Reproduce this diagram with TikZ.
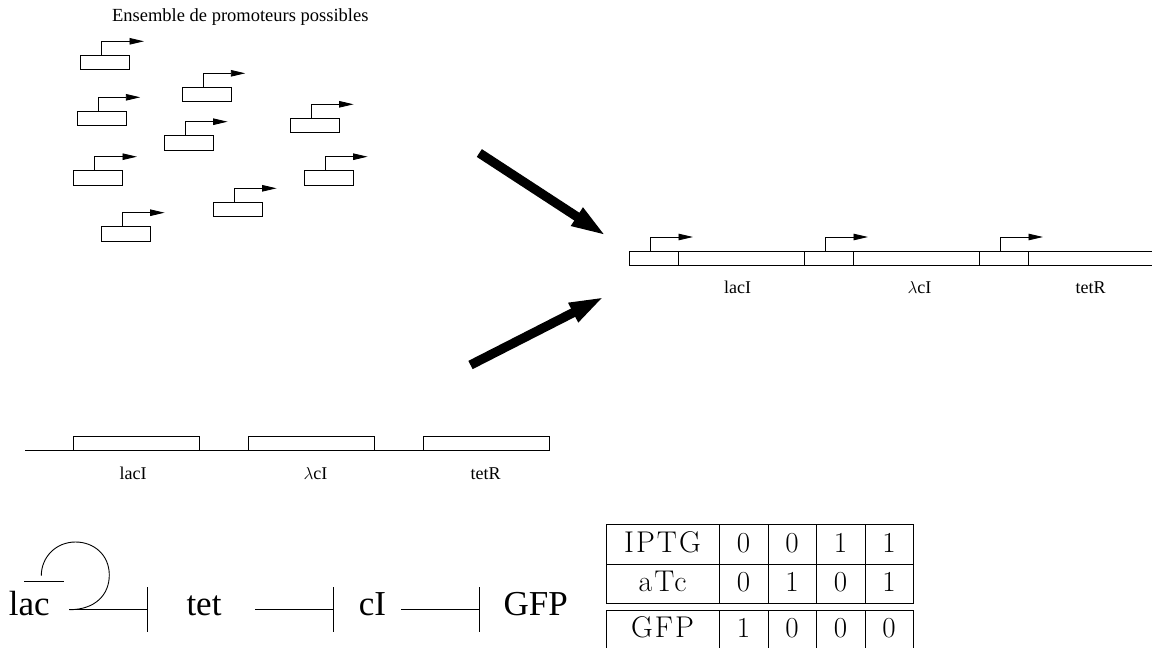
\documentclass[tikz,border=0pt]{standalone}
\usepackage{fontspec}
\setmainfont{Liberation Serif}
\newfontfamily\cmfont[LetterSpace=7]{Latin Modern Roman}
\newfontfamily\cmdigit{Latin Modern Roman}
\usetikzlibrary{arrows.meta,calc}
\tikzset{
  x=1pt,y=-1pt,
  thinline/.style={line width=0.9pt,black},
  probox/.style={draw,line width=0.9pt,minimum width=49pt,minimum height=14.3pt,inner sep=0pt,outer sep=0pt,anchor=north west},
  proarrow/.style={thinline,-{Triangle[length=14.5pt,width=6.5pt]}},
  bigarrow/.style={line width=9.3pt,black,-{Triangle[length=36pt,width=19pt]}},
  small/.style={font=\fontsize{18}{18}\selectfont,anchor=base,inner sep=0pt},
  big/.style={font=\fontsize{35}{35}\selectfont,anchor=base,inner sep=0pt},
  tabtxt/.style={font=\cmfont\fontsize{30}{30}\selectfont,anchor=base,inner sep=0pt},
  tabdig/.style={font=\cmdigit\fontsize{29}{29}\selectfont,anchor=base,inner sep=0pt},
  genebox/.style={draw,line width=0.9pt,inner sep=0pt,outer sep=0pt,anchor=north west,minimum height=14pt},
}
\newcommand{\promoter}[3]{%
  \node[probox] (p#1) at (#2,#3) {};
  \coordinate (s#1) at ($(p#1.north west)+(21,0)$);
  \coordinate (e#1) at ($(p#1.north west)+(63.3,-14)$);
  \draw[proarrow] (s#1) |- (e#1);
}
\begin{document}
\begin{tikzpicture}
\useasboundingbox (0,0) rectangle (1152,648);
\node[small,font=\fontsize{18.5}{18}\selectfont] (title) at (240.3,21.7) {Ensemble de promoteurs possibles};
\promoter{1}{80.7}{55.3}
\promoter{2}{182}{87.3}
\promoter{3}{77}{111.3}
\promoter{4}{290.3}{118.3}
\promoter{5}{164.3}{135.7}
\promoter{6}{73.7}{170.7}
\promoter{7}{304.3}{170.7}
\promoter{8}{213.3}{202.3}
\promoter{9}{101.3}{226.7}

\coordinate (a1s) at (479.3,153);
\coordinate (a1e) at (607,236.3);
\coordinate (a2s) at (470.5,365);
\coordinate (a2e) at (605.2,296.3);
\draw[bigarrow] (a1s) -- (a1e);
\draw[bigarrow] (a2s) -- (a2e);

% assembled construct
\coordinate (c0) at (629.5,251);
\coordinate (c1) at (1152,265);
\draw[thinline] (1152,251) -- (c0) -- (629.5,265) -- (c1);
\foreach \n/\x in {a/678,b/804,c/853,d/979,e/1028}{
  \coordinate (t\n) at (\x,251);
  \coordinate (u\n) at (\x,265);
  \draw[thinline] (t\n) -- (u\n);
}
\foreach \n/\x in {a/650,b/825,c/1000}{
  \coordinate (q\n) at (\x,251);
  \coordinate (r\n) at (\x+43,237);
  \draw[proarrow] (q\n) |- (r\n);
}
\node[small] (l1) at (737.5,293) {lacI};
\node[small] (l2) at (919.5,293) {$\lambda$cI};
\node[small] (l3) at (1090.5,293) {tetR};

% genes on a line
\node[genebox,minimum width=126pt] (g1) at (73.5,436.5) {};
\node[genebox,minimum width=126pt] (g2) at (248.5,436.5) {};
\node[genebox,minimum width=126pt] (g3) at (423,436.5) {};
\coordinate (g0) at (25,450.5);
\draw[thinline] (g0) -- (g3.south east);
\node[small] (m1) at (133,479.3) {lacI};
\node[small] (m2) at (315.5,479.3) {$\lambda$cI};
\node[small] (m3) at (485.5,479.3) {tetR};

% repression chain
\node[big] (lac) at (29.3,615) {lac};
\node[big] (tet) at (204,615) {tet};
\node[big] (cI) at (372.5,615) {cI};
\node[big] (gfp) at (535.7,615) {GFP};
\coordinate (x1) at (69.3,609.7); \coordinate (x2) at (147.7,609.7);
\coordinate (y1) at (255,609.7); \coordinate (y2) at (333.3,609.7);
\coordinate (z1) at (401,609.7); \coordinate (z2) at (479.7,609.7);
\foreach \a/\b in {x1/x2,y1/y2,z1/z2}{
  \draw[thinline] (\a) -- (\b);
  \draw[thinline] ($(\b)+(0,-22.5)$) -- ($(\b)+(0,22.2)$);
}
\coordinate (o1) at (24.3,581.7); \coordinate (o2) at (64,581.7);
\draw[thinline] (o1) -- (o2);
\coordinate (arc1) at (41.3,575.7);
\draw[thinline] (x1) .. controls (95,609.7) and (109.3,595) .. (109.3,575)
   .. controls (109.3,555) and (94,542) .. (75.5,542)
   .. controls (56,542) and (41.3,557) .. (arc1);

% table
\foreach \v in {524,564,603.5,610,648}{
  \draw[thinline,line width=1pt] (606,\v) -- (913,\v);
}
\foreach \h in {606,719,768,816,865,913}{
  \draw[thinline,line width=1pt] (\h,524) -- (\h,603.5);
  \draw[thinline,line width=1pt] (\h,610) -- (\h,648);
}
\foreach \r/\y/\a/\b/\c/\d/\e in {i/552/IPTG/0/0/1/1,j/591.5/aTc/0/1/0/1,k/637/GFP/1/0/0/0}{
  \node[tabtxt] (\r0) at (662.5,\y) {\a};
  \node[tabdig] (\r1) at (743.5,\y) {\b};
  \node[tabdig] (\r2) at (792,\y) {\c};
  \node[tabdig] (\r3) at (840.5,\y) {\d};
  \node[tabdig] (\r4) at (889,\y) {\e};
}
\end{tikzpicture}
\end{document}
